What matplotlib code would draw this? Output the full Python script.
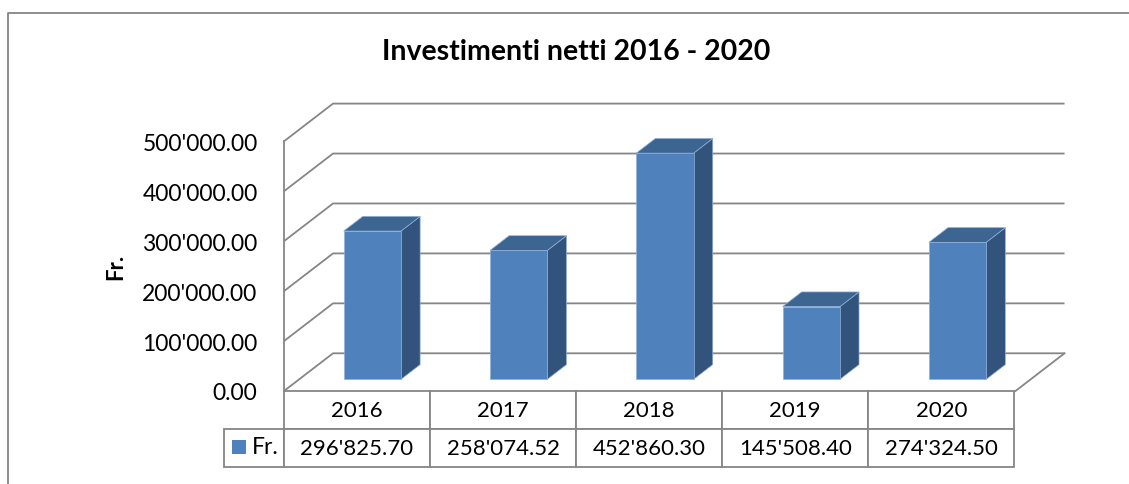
import matplotlib.pyplot as plt
from matplotlib.patches import Polygon, Rectangle
from matplotlib.lines import Line2D

# dati
anni = ['2016', '2017', '2018', '2019', '2020']
investimenti = [296825.70, 258074.52, 452860.30, 145508.40, 274324.50]
y_ticks = [0, 100000, 200000, 300000, 400000, 500000]
serie = 'Fr.'
titolo = 'Investimenti netti 2016 - 2020'


def fmt(v):
    # formato svizzero 1'234.56
    return f"{v:,.2f}".replace(',', "'")


plt.rcParams['font.family'] = ['Lato', 'DejaVu Sans']

W, H = 1129, 485
fig = plt.figure(figsize=(W / 100, H / 100), dpi=100)

# axes = piano frontale del grafico 3D
ax = fig.add_axes([284 / W, (H - 392) / H, 731.5 / W, 249.7 / H])
ax.set_xlim(-0.5, 4.5)
ax.set_ylim(0, 500000)
ax.patch.set_visible(False)
for s in ax.spines.values():
    s.set_visible(False)
ax.set_xticks([])
ax.set_yticks(y_ticks)
ax.set_yticklabels([fmt(v) for v in y_ticks])
ax.tick_params(axis='y', length=0, pad=19, labelsize=16.5)
ax.set_ylabel(serie, fontsize=16, fontweight='bold')
ax.yaxis.set_label_coords(-0.216, 0.5)

grid_c = '#868686'
kx, ky = 0.335, 75500  # profondita' (x in categorie, y in Fr.)
x0, x1 = -0.5, 4.5

# griglia sul fondo + parete laterale
for v in y_ticks:
    ax.plot([x0, x0 + kx, x1 + kx], [v, v + ky, v + ky], color=grid_c, lw=1.3,
            clip_on=False, zorder=1, solid_capstyle='butt')
ax.plot([x0, x0], [0, 500000], color=grid_c, lw=1.3, clip_on=False, zorder=1)
ax.plot([x1, x1 + kx], [0, ky], color=grid_c, lw=1.3, clip_on=False, zorder=1)

# barre 3D
front_c, side_c, top_c = '#4f81bd', '#32537b', '#3d6591'
w = 0.392
z0, z1 = 0.31, 0.70


def p(x, y, z):
    return (x + z * kx, y + z * ky)


for i, v in enumerate(investimenti):
    xl, xr = i - w / 2, i + w / 2
    side = [p(xr, 0, z0), p(xr, v, z0), p(xr, v, z1), p(xr, 0, z1)]
    top = [p(xl, v, z0), p(xr, v, z0), p(xr, v, z1), p(xl, v, z1)]
    front = [p(xl, 0, z0), p(xr, 0, z0), p(xr, v, z0), p(xl, v, z0)]
    for pts, c in [(side, side_c), (top, top_c), (front, front_c)]:
        ax.add_patch(Polygon(pts, closed=True, facecolor=c, edgecolor='#8fb0d8',
                             lw=0.5, clip_on=False, zorder=3))

# tabella dati
cell_text = [[''] + anni, [''] + [fmt(v) for v in investimenti]]
tab = ax.table(cellText=cell_text, cellLoc='center',
               colWidths=[60] + [146.3] * 5,
               bbox=[-60 / 731.5, -75.7 / 249.7, (1014.3 - 224) / 731.5, 75.7 / 249.7])
tab.auto_set_font_size(False)
tab.set_fontsize(16)
for (r, c), cell in tab.get_celld().items():
    cell.set_edgecolor(grid_c)
    cell.set_linewidth(1.3)
tab[(0, 0)].visible_edges = 'open'

# chiave legenda nella tabella
ax.add_patch(Rectangle((-52 / 731.5, -63 / 249.7), 14 / 731.5, 14 / 249.7,
                       transform=ax.transAxes, facecolor=front_c, edgecolor='none',
                       clip_on=False, zorder=20))
ax.text(-32 / 731.5, -56 / 249.7, serie, transform=ax.transAxes, fontsize=16.5,
        ha='left', va='center', zorder=20)

fig.text(576.5 / W, 1 - 52 / H, titolo, ha='center', va='center',
         fontsize=20.5, fontweight='bold')

# cornice esterna
fig.add_artist(Line2D([8 / W, 8 / W, 1], [0, 1 - 14 / H, 1 - 14 / H],
                      transform=fig.transFigure, color=grid_c, lw=1.3))

fig.savefig('out.png', dpi=100)
